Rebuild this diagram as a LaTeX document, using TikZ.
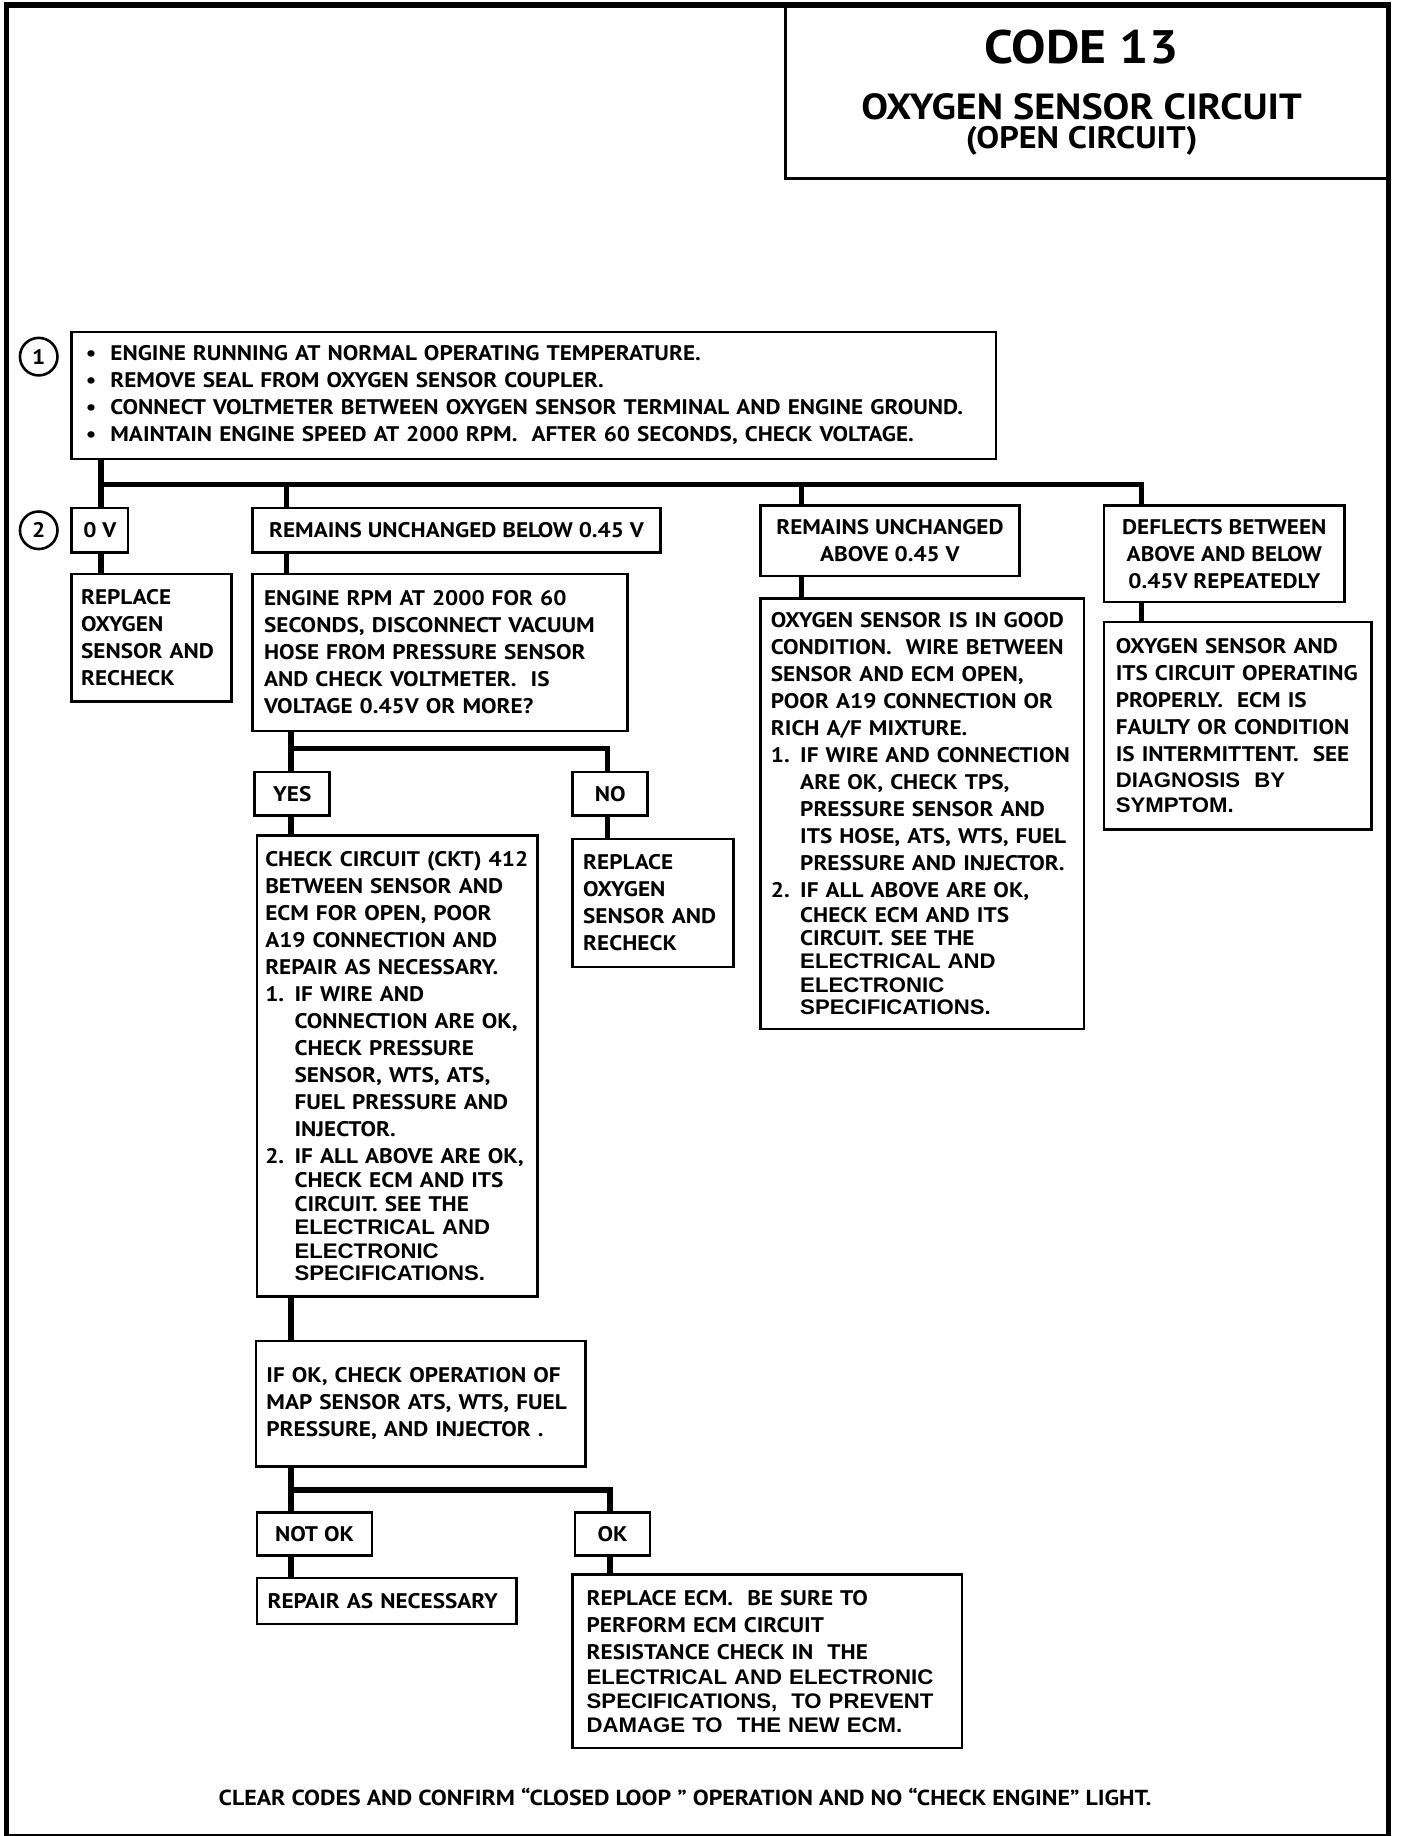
\documentclass[tikz,border=0pt]{standalone}
\usepackage{fontspec}
\setmainfont{PT Sans}[FakeStretch=1.1]
\newfontfamily\helv{Liberation Sans}[FakeStretch=1.05]
\usetikzlibrary{calc}
\newcommand\bodyfont{\fontsize{18}{23}\selectfont\bfseries}
\newcommand\nitem[1]{\makebox[25pt][l]{#1}}
\newcommand\nind{\hspace*{25pt}}
\newcommand\bul{\makebox[21pt][l]{\textbullet}}
\begin{document}
\begin{tikzpicture}[x=1pt,y=-1pt,
  box/.style={draw, line width=2.2pt, anchor=north west, align=left, inner ysep=0pt, font=\bodyfont},
  cbox/.style={draw, line width=2.2pt, anchor=north west, align=center, inner sep=0pt, font=\bodyfont},
  circ/.style={draw, circle, line width=2.2pt, minimum size=32pt, inner sep=0pt, font=\bodyfont},
  conn/.style={line width=4.5pt, line join=miter},
]
\useasboundingbox (0,0) rectangle (1200,1565);
\node[draw, line width=5pt, anchor=north west, minimum width=1178pt, minimum height=1561pt, inner sep=0pt] (frame) at (3,2) {};

% title
\node[draw, line width=2.6pt, anchor=north west, minimum width=513pt, minimum height=149pt, inner sep=0pt] (title) at (668,2) {};
\node[font=\fontsize{40}{44}\selectfont\bfseries] (code) at (922,40) {CODE 13};
\node[font=\fontsize{31}{34}\selectfont\bfseries] (osc) at (922,91) {OXYGEN SENSOR CIRCUIT};
\node[font=\fontsize{26.5}{29}\selectfont\bfseries] (open) at (922,120) {(OPEN CIRCUIT)};

% step 1
\node[circ] (c1) at (33,304) {1};
\node[box, minimum height=108pt, text width=764pt, inner xsep=12pt] (s1) at (60,282)
 {\bul ENGINE RUNNING AT NORMAL OPERATING TEMPERATURE.\\
  \bul REMOVE SEAL FROM OXYGEN SENSOR COUPLER.\\
  \bul CONNECT VOLTMETER BETWEEN OXYGEN SENSOR TERMINAL AND ENGINE GROUND.\\
  \bul MAINTAIN ENGINE SPEED AT 2000 RPM.~ AFTER 60 SECONDS, CHECK VOLTAGE.};

% step 2
\node[circ] (c2) at (33,452) {2};
\node[cbox, minimum width=48pt, minimum height=38pt] (v0) at (60,432) {0 V};
\node[box, minimum height=109pt, text width=120pt, inner xsep=8pt] (r1) at (60,488)
 {REPLACE\\OXYGEN\\SENSOR AND\\RECHECK};

\node[cbox, minimum width=348pt, minimum height=38pt] (below) at (214,432) {REMAINS UNCHANGED BELOW 0.45 V};
\node[box, minimum height=134pt, text width=300pt, inner xsep=10pt] (rpm) at (214,488)
 {ENGINE RPM AT 2000 FOR 60\\SECONDS, DISCONNECT VACUUM\\HOSE FROM PRESSURE SENSOR\\AND CHECK VOLTMETER.~ IS\\VOLTAGE 0.45V OR MORE?};

\node[cbox, minimum width=64pt, minimum height=37pt] (yes) at (216,657) {YES};
\node[cbox, minimum width=64pt, minimum height=37pt] (no) at (487,657) {NO};

\node[box, minimum height=393pt, text width=225pt, inner xsep=7pt] (chk) at (218,711)
 {CHECK CIRCUIT (CKT) 412\\
  BETWEEN SENSOR AND\\
  ECM FOR OPEN, POOR\\
  A19 CONNECTION AND\\
  REPAIR AS NECESSARY.\\
  \nitem{1.}IF WIRE AND\\
  \nind CONNECTION ARE OK,\\
  \nind CHECK PRESSURE\\
  \nind SENSOR, WTS, ATS,\\
  \nind FUEL PRESSURE AND\\
  \nind INJECTOR.\\
  \nitem{2.}IF ALL ABOVE ARE OK,\\[-2pt]
  \nind CHECK ECM AND ITS\\[-3pt]
  \nind CIRCUIT. SEE THE\\[-3pt]
  \nind {\helv ELECTRICAL AND}\\[-3pt]
  \nind {\helv ELECTRONIC}\\[-4pt]
  \nind {\helv SPECIFICATIONS.}};

\node[box, minimum height=109pt, text width=119pt, inner xsep=9pt] (r2) at (487,714)
 {REPLACE\\OXYGEN\\SENSOR AND\\RECHECK};

\node[box, minimum height=107pt, text width=263pt, inner xsep=9pt] (ifok) at (217,1142)
 {IF OK, CHECK OPERATION OF\\MAP SENSOR ATS, WTS, FUEL\\PRESSURE, AND INJECTOR .};

\node[cbox, minimum width=98pt, minimum height=37pt] (notok) at (218,1288) {NOT OK};
\node[cbox, minimum width=64pt, minimum height=37pt] (ok) at (489,1288) {OK};

\node[box, minimum height=39pt, text width=203pt, inner xsep=9pt] (rep) at (218,1344) {REPAIR AS NECESSARY};
\node[box, minimum height=148pt, text width=308pt, inner xsep=12pt] (ecm) at (487,1341)
 {REPLACE ECM.~ BE SURE TO\\
  PERFORM ECM CIRCUIT\\
  RESISTANCE CHECK IN~ THE\\[-2pt]
  {\helv ELECTRICAL AND ELECTRONIC}\\[-2pt]
  {\helv SPECIFICATIONS,~ TO PREVENT}\\[-3pt]
  {\helv DAMAGE TO~ THE NEW ECM.}};

\node[cbox, minimum width=221pt, minimum height=60pt] (above) at (647,430) {REMAINS UNCHANGED\\ABOVE 0.45 V};
\node[box, minimum height=367pt, text width=258pt, inner xsep=9pt] (good) at (647,509)
 {OXYGEN SENSOR IS IN GOOD\\
  CONDITION.~ WIRE BETWEEN\\
  SENSOR AND ECM OPEN,\\
  POOR A19 CONNECTION OR\\
  RICH A/F MIXTURE.\\
  \nitem{1.}IF WIRE AND CONNECTION\\
  \nind ARE OK, CHECK TPS,\\
  \nind PRESSURE SENSOR AND\\
  \nind ITS HOSE, ATS, WTS, FUEL\\
  \nind PRESSURE AND INJECTOR.\\
  \nitem{2.}IF ALL ABOVE ARE OK,\\[-2pt]
  \nind CHECK ECM AND ITS\\[-3pt]
  \nind CIRCUIT. SEE THE\\[-3pt]
  \nind {\helv ELECTRICAL AND}\\[-3pt]
  \nind {\helv ELECTRONIC}\\[-4pt]
  \nind {\helv SPECIFICATIONS.}};

\node[cbox, minimum width=205pt, minimum height=82pt] (def) at (940,430) {DEFLECTS BETWEEN\\ABOVE AND BELOW\\0.45V REPEATEDLY};
\node[box, minimum height=177pt, text width=208pt, inner xsep=10pt] (prop) at (940,529)
 {OXYGEN SENSOR AND\\
  ITS CIRCUIT OPERATING\\
  PROPERLY.~ ECM IS\\
  FAULTY OR CONDITION\\
  IS INTERMITTENT.~ SEE\\[-1pt]
  {\helv DIAGNOSIS~ BY}\\[-1pt]
  {\helv SYMPTOM.}};

\node[font=\fontsize{18.5}{21}\selectfont\bfseries] (foot) at (584,1532)
 {CLEAR CODES AND CONFIRM “CLOSED LOOP ” OPERATION AND NO “CHECK ENGINE” LIGHT.};

% connectors
\coordinate (ja) at (86,413);
\coordinate (jb) at (244,413);
\coordinate (jc) at (683,413);
\coordinate (jd) at (973,413);
\draw[conn] (ja |- s1.south) -- (ja) -- (jd) -- (jd |- def.north);
\draw[conn] (ja) -- (ja |- v0.north);
\draw[conn] (jb) -- (jb |- below.north);
\draw[conn] (jc) -- (jc |- above.north);
\draw[conn] (ja |- v0.south) -- (ja |- r1.north);
\draw[conn] (jb |- below.south) -- (jb |- rpm.north);
\draw[conn] (jc |- above.south) -- (jc |- good.north);
\draw[conn] (jd |- def.south) -- (jd |- prop.north);

\coordinate (ke) at (248,638);
\coordinate (kf) at (518,638);
\draw[conn] (ke |- rpm.south) -- (ke) -- (kf) -- (kf |- no.north);
\draw[conn] (ke) -- (ke |- yes.north);
\draw[conn] (ke |- yes.south) -- (ke |- chk.north);
\draw[conn] (kf |- no.south) -- (kf |- r2.north);
\draw[conn] (ke |- chk.south) -- (ke |- ifok.north);

\coordinate (lg) at (248,1270);
\coordinate (lh) at (520,1270);
\draw[conn] (lg |- ifok.south) -- (lg) -- (lh) -- (lh |- ok.north);
\draw[conn] (lg) -- (lg |- notok.north);
\draw[conn] (lg |- notok.south) -- (lg |- rep.north);
\draw[conn] (lh |- ok.south) -- (lh |- ecm.north);
\end{tikzpicture}
\end{document}
